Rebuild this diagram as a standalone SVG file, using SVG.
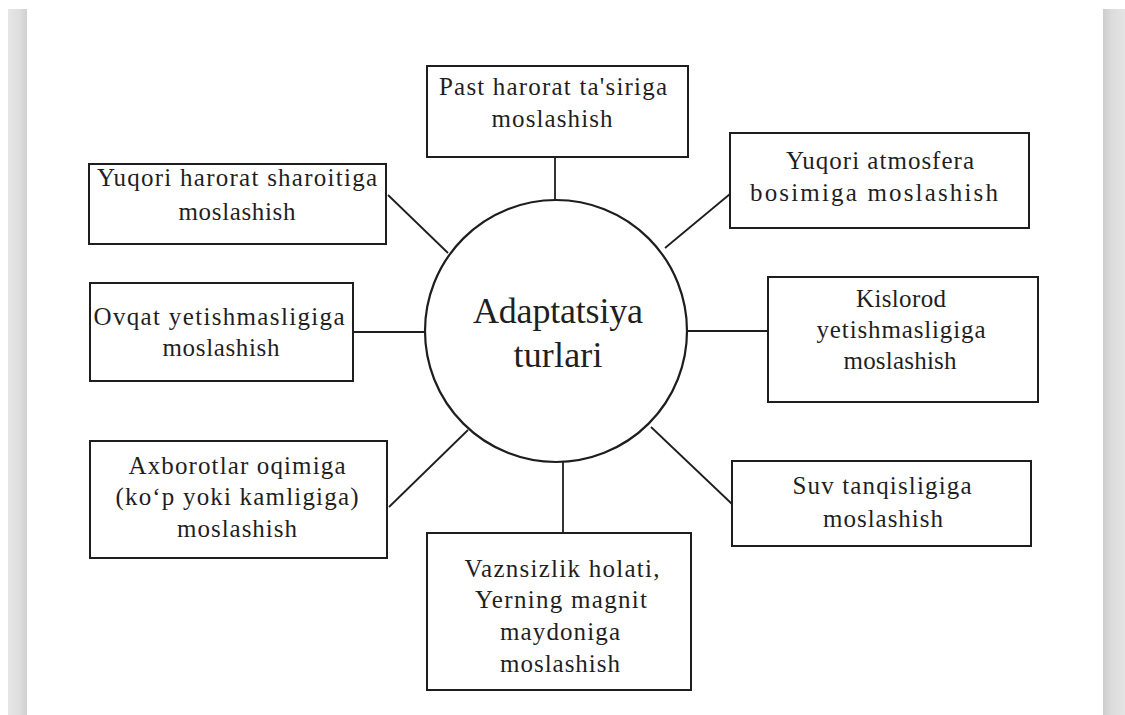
<svg xmlns="http://www.w3.org/2000/svg" width="1125" height="715" viewBox="0 0 1125 715">
  <defs>
    <linearGradient id="barL" x1="0" y1="0" x2="1" y2="0">
      <stop offset="0" stop-color="#e6e6e6"/>
      <stop offset="0.6" stop-color="#dedede"/>
      <stop offset="1" stop-color="#cfcfcf"/>
    </linearGradient>
    <linearGradient id="barR" x1="0" y1="0" x2="1" y2="0">
      <stop offset="0" stop-color="#cdcdcd"/>
      <stop offset="0.4" stop-color="#dcdcdc"/>
      <stop offset="1" stop-color="#e4e4e4"/>
    </linearGradient>
  </defs>
  <style>
    .box { fill: #ffffff; stroke: #1e1e1e; stroke-width: 2; }
    .hub { fill: #ffffff; stroke: #1e1e1e; stroke-width: 2.2; }
    .conn line { stroke: #1e1e1e; stroke-width: 1.8; }
    text { font-family: "Liberation Serif", "Times New Roman", serif; fill: #1f1f1f; text-anchor: middle; }
    .t { font-size: 25px; }
    .big { font-size: 36px; }
  </style>

  <rect x="0" y="0" width="1125" height="715" fill="#ffffff"/>
  <rect x="8" y="9" width="19" height="706" fill="url(#barL)"/>
  <rect x="1103" y="9" width="22" height="706" fill="url(#barR)"/>

  <g id="connectors" class="conn">
    <line x1="555" y1="157" x2="555" y2="200"/>
    <line x1="388" y1="195" x2="448" y2="253"/>
    <line x1="665" y1="248" x2="730" y2="194"/>
    <line x1="353" y1="332" x2="425" y2="332"/>
    <line x1="688" y1="331" x2="768" y2="331"/>
    <line x1="389" y1="507" x2="468" y2="430"/>
    <line x1="651" y1="427" x2="732" y2="504"/>
    <line x1="563" y1="461" x2="563" y2="533"/>
  </g>

  <g id="hub">
    <circle class="hub" cx="556" cy="331" r="131"/>
    <text class="big" x="558" y="323" textLength="170" lengthAdjust="spacing">Adaptatsiya</text>
    <text class="big" x="558" y="367" textLength="89" lengthAdjust="spacing">turlari</text>
  </g>

  <g id="n-past">
    <rect class="box" x="427" y="66" width="261" height="91"/>
    <text class="t" x="553" y="95" textLength="228" lengthAdjust="spacing">Past harorat ta'siriga</text>
    <text class="t" x="552" y="127" textLength="121" lengthAdjust="spacing">moslashish</text>
  </g>

  <g id="n-yuqori-harorat">
    <rect class="box" x="89" y="164" width="297" height="80"/>
    <text class="t" x="237" y="186" textLength="280" lengthAdjust="spacing">Yuqori harorat sharoitiga</text>
    <text class="t" x="237" y="220" textLength="117" lengthAdjust="spacing">moslashish</text>
  </g>

  <g id="n-atmosfera">
    <rect class="box" x="730" y="133" width="299" height="95"/>
    <text class="t" x="880" y="169" textLength="188" lengthAdjust="spacing">Yuqori atmosfera</text>
    <text class="t" x="874" y="201" textLength="248" lengthAdjust="spacing">bosimiga moslashish</text>
  </g>

  <g id="n-ovqat">
    <rect class="box" x="90" y="283" width="263" height="98"/>
    <text class="t" x="219" y="325" textLength="251" lengthAdjust="spacing">Ovqat yetishmasligiga</text>
    <text class="t" x="221" y="356" textLength="117" lengthAdjust="spacing">moslashish</text>
  </g>

  <g id="n-kislorod">
    <rect class="box" x="768" y="277" width="270" height="125"/>
    <text class="t" x="901" y="307" textLength="90" lengthAdjust="spacing">Kislorod</text>
    <text class="t" x="901" y="338" textLength="169" lengthAdjust="spacing">yetishmasligiga</text>
    <text class="t" x="900" y="369" textLength="113" lengthAdjust="spacing">moslashish</text>
  </g>

  <g id="n-axborot">
    <rect class="box" x="90" y="441" width="297" height="117"/>
    <text class="t" x="237" y="474" textLength="217" lengthAdjust="spacing">Axborotlar oqimiga</text>
    <text class="t" x="237" y="505" textLength="243" lengthAdjust="spacing">(ko‘p yoki kamligiga)</text>
    <text class="t" x="237" y="537" textLength="120" lengthAdjust="spacing">moslashish</text>
  </g>

  <g id="n-vaznsizlik">
    <rect class="box" x="427" y="533" width="264" height="157"/>
    <text class="t" x="562" y="577" textLength="195" lengthAdjust="spacing">Vaznsizlik holati,</text>
    <text class="t" x="561" y="608" textLength="172" lengthAdjust="spacing">Yerning magnit</text>
    <text class="t" x="560" y="640" textLength="120" lengthAdjust="spacing">maydoniga</text>
    <text class="t" x="560" y="672" textLength="120" lengthAdjust="spacing">moslashish</text>
  </g>

  <g id="n-suv">
    <rect class="box" x="732" y="461" width="299" height="85"/>
    <text class="t" x="882" y="494" textLength="179" lengthAdjust="spacing">Suv tanqisligiga</text>
    <text class="t" x="883" y="527" textLength="120" lengthAdjust="spacing">moslashish</text>
  </g>
</svg>
